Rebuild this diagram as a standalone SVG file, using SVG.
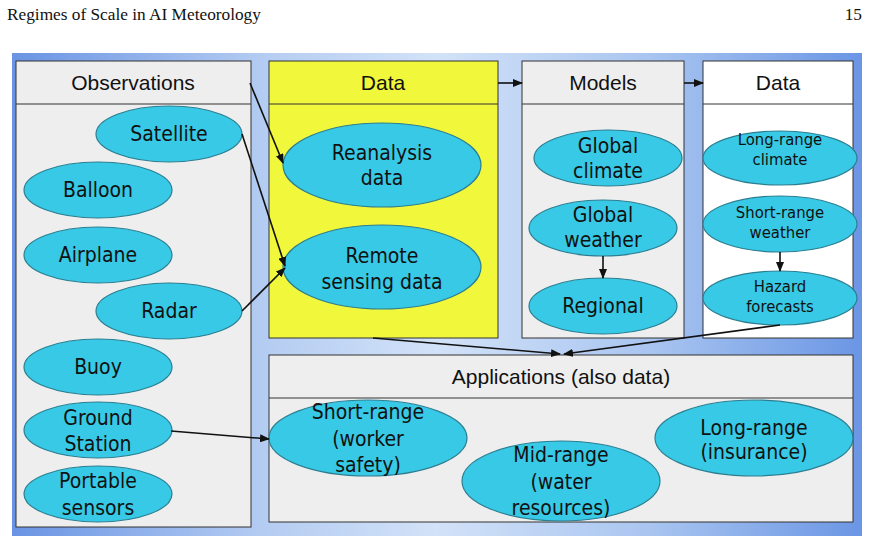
<svg xmlns="http://www.w3.org/2000/svg" width="870" height="542" viewBox="0 0 870 542">
<defs>
<linearGradient id="bg" x1="0" y1="0" x2="1" y2="0">
<stop offset="0" stop-color="#6a94e3"/>
<stop offset="0.3" stop-color="#b5cdf2"/>
<stop offset="0.5" stop-color="#d2e2f8"/>
<stop offset="0.75" stop-color="#a9c5f0"/>
<stop offset="1" stop-color="#6b96e5"/>
</linearGradient>
<marker id="ah" markerWidth="10" markerHeight="8" refX="9" refY="4" orient="auto" markerUnits="userSpaceOnUse">
<path d="M0,0 L10,4 L0,8 Z" fill="#111"/>
</marker>
</defs>
<style>
.page{font-family:"Liberation Serif","DejaVu Serif",serif;font-size:17.3px;fill:#111}
.box{stroke:#333;stroke-width:1}
.hdr{font-family:"Liberation Sans",Arial,sans-serif;font-size:21px;fill:#111;text-anchor:middle}
.el{fill:#37c9e5;stroke:#2b7f92;stroke-width:1.2}
.t{font-family:"DejaVu Sans Condensed","DejaVu Sans",sans-serif;font-stretch:condensed;font-size:21px;fill:#111;text-anchor:middle}
.s{font-family:"DejaVu Sans Condensed","DejaVu Sans",sans-serif;font-stretch:condensed;font-size:16.5px;fill:#111;text-anchor:middle}
.c{stroke:#111;stroke-width:1.6;fill:none;marker-end:url(#ah)}
</style>
<text class="page" x="7" y="20">Regimes of Scale in AI Meteorology</text>
<text class="page" x="862" y="20" text-anchor="end">15</text>
<rect x="12" y="53" width="850" height="483" fill="url(#bg)"/>

<g id="observations">
<rect class="box" x="16" y="61" width="235" height="466" fill="#eeeeee"/>
<line class="box" x1="16" y1="104" x2="251" y2="104"/>
<text class="hdr" x="133" y="90">Observations</text>
</g>
<g id="data1">
<rect class="box" x="269" y="61" width="229" height="277" fill="#f1f73b"/>
<line class="box" x1="269" y1="104" x2="498" y2="104"/>
<text class="hdr" x="383" y="90">Data</text>
</g>
<g id="models">
<rect class="box" x="522" y="61" width="162" height="277" fill="#eeeeee"/>
<line class="box" x1="522" y1="104" x2="684" y2="104"/>
<text class="hdr" x="603" y="90">Models</text>
</g>
<g id="data2">
<rect class="box" x="703" y="61" width="150" height="277" fill="#ffffff"/>
<line class="box" x1="703" y1="104" x2="853" y2="104"/>
<text class="hdr" x="778" y="90">Data</text>
</g>
<g id="applications">
<rect class="box" x="269" y="355" width="584" height="167" fill="#eeeeee"/>
<line class="box" x1="269" y1="398" x2="853" y2="398"/>
<text class="hdr" x="561" y="384">Applications (also data)</text>
</g>

<g id="satellite"><ellipse class="el" cx="169" cy="134" rx="73" ry="28"/><text class="t" x="169" y="141">Satellite</text></g>
<g id="balloon"><ellipse class="el" cx="98" cy="190" rx="74" ry="28"/><text class="t" x="98" y="197">Balloon</text></g>
<g id="airplane"><ellipse class="el" cx="98" cy="255" rx="74" ry="28"/><text class="t" x="98" y="262">Airplane</text></g>
<g id="radar"><ellipse class="el" cx="169" cy="311" rx="73" ry="28"/><text class="t" x="169" y="318">Radar</text></g>
<g id="buoy"><ellipse class="el" cx="98" cy="367" rx="74" ry="28"/><text class="t" x="98" y="374">Buoy</text></g>
<g id="ground-station"><ellipse class="el" cx="98" cy="430" rx="74" ry="28"/><text class="t" x="98" y="425">Ground</text><text class="t" x="98" y="451">Station</text></g>
<g id="portable-sensors"><ellipse class="el" cx="98" cy="494" rx="74" ry="28"/><text class="t" x="98" y="488">Portable</text><text class="t" x="98" y="515">sensors</text></g>

<g id="reanalysis"><ellipse class="el" cx="382" cy="165" rx="99" ry="42"/><text class="t" x="382" y="160">Reanalysis</text><text class="t" x="382" y="185">data</text></g>
<g id="remote-sensing"><ellipse class="el" cx="382" cy="267" rx="99" ry="42"/><text class="t" x="382" y="263">Remote</text><text class="t" x="382" y="289">sensing data</text></g>

<g id="global-climate"><ellipse class="el" cx="608" cy="158" rx="74" ry="28"/><text class="t" x="608" y="153">Global</text><text class="t" x="608" y="178">climate</text></g>
<g id="global-weather"><ellipse class="el" cx="603" cy="228" rx="74" ry="28"/><text class="t" x="603" y="222">Global</text><text class="t" x="603" y="247">weather</text></g>
<g id="regional"><ellipse class="el" cx="603" cy="306" rx="74" ry="28"/><text class="t" x="603" y="313">Regional</text></g>

<g id="long-range-climate"><ellipse class="el" cx="780" cy="158" rx="77" ry="27"/><text class="s" x="780" y="145">Long-range</text><text class="s" x="780" y="165">climate</text></g>
<g id="short-range-weather"><ellipse class="el" cx="780" cy="224" rx="77" ry="28"/><text class="s" x="780" y="218">Short-range</text><text class="s" x="780" y="238">weather</text></g>
<g id="hazard-forecasts"><ellipse class="el" cx="780" cy="298" rx="77" ry="27"/><text class="s" x="780" y="292">Hazard</text><text class="s" x="780" y="312">forecasts</text></g>

<g id="short-range-app"><ellipse class="el" cx="368" cy="438" rx="99" ry="38"/><text class="t" x="368" y="419">Short-range</text><text class="t" x="368" y="446">(worker</text><text class="t" x="368" y="472">safety)</text></g>
<g id="mid-range-app"><ellipse class="el" cx="561" cy="481" rx="99" ry="40"/><text class="t" x="561" y="462">Mid-range</text><text class="t" x="561" y="489">(water</text><text class="t" x="561" y="515">resources)</text></g>
<g id="long-range-app"><ellipse class="el" cx="754" cy="438" rx="99" ry="38"/><text class="t" x="754" y="435">Long-range</text><text class="t" x="754" y="459">(insurance)</text></g>

<g id="connectors">
<line class="c" x1="250" y1="83" x2="283" y2="163"/>
<line class="c" x1="242" y1="134" x2="285" y2="266"/>
<line class="c" x1="242" y1="311" x2="285" y2="268"/>
<line class="c" x1="171" y1="431" x2="269" y2="439"/>
<line class="c" x1="498" y1="83" x2="522" y2="83"/>
<line class="c" x1="684" y1="83" x2="703" y2="83"/>
<line class="c" x1="603" y1="256" x2="603" y2="278"/>
<line class="c" x1="780" y1="252" x2="780" y2="271"/>
<line class="c" x1="373" y1="338" x2="560" y2="354"/>
<line class="c" x1="780" y1="325" x2="564" y2="354"/>
</g>
</svg>
